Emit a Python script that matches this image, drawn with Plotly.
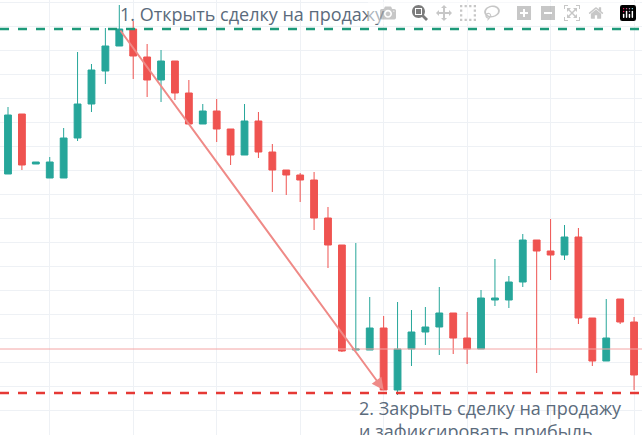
import plotly.graph_objects as go

# pixel-derived price values (value = 435 - pixel y)
opens_px  = [174,114,164,178,178,138,104,71,46,29,57,80,61,93,124,111,129,155,121,152,170,175,180,218,245,350,350,328,390,349,332,327,313,338,349,300,300,282,240,251,255,237,318,361,299,322]
closes_px = [115,165,162,162,138,104,70,46,29,56,80,61,93,124,111,129,155,121,152,170,175,180,218,245,351,349,328,390,349,332,327,313,338,349,298,298,282,240,251,255,237,318,361,338,322,375]
highs_px  = [107,114,162,157,128,52,64,28,5,21,44,50,61,80,104,99,129,104,112,144,170,173,172,207,245,243,297,316,302,310,307,287,313,312,290,259,276,234,240,219,225,228,318,299,299,317]
lows_px   = [174,170,164,178,178,141,112,84,46,79,97,102,100,124,124,142,165,155,158,192,195,202,230,268,352,350,350,390,395,366,345,355,354,364,349,306,308,287,373,280,260,324,366,361,324,390]

H = 435
opens = [H - v for v in opens_px]
closes = [H - v for v in closes_px]
highs = [H - v for v in highs_px]
lows = [H - v for v in lows_px]
idx = list(range(len(opens)))

open_level = H - 29
close_level = H - 393
mid_level = H - 349

fig = go.Figure(go.Candlestick(
    x=idx, open=opens, high=highs, low=lows, close=closes,
    increasing=dict(line=dict(color="#26a69a", width=1), fillcolor="#26a69a"),
    decreasing=dict(line=dict(color="#ef5350", width=1), fillcolor="#ef5350"),
    whiskerwidth=0, showlegend=False,
))

fig.add_hline(y=open_level, line=dict(color="#1e9a7a", width=2.5, dash="dash"))
fig.add_hline(y=close_level, line=dict(color="#e53935", width=2.5, dash="dash"))
fig.add_hline(y=mid_level, line=dict(color="#f4a4a4", width=1))

fig.add_annotation(x=27, y=close_level + 3, ax=8, ay=open_level, xref="x", yref="y",
                   axref="x", ayref="y", showarrow=True, arrowhead=2, arrowsize=1.2,
                   arrowwidth=2, arrowcolor="#ef8a87", text="")
txtfont = dict(family="Open Sans", size=18, color="#5b6b7c")
fig.add_annotation(x=7.9, y=open_level + 1, xref="x", yref="y", text="1. Открыть сделку на продажу",
                   showarrow=False, xanchor="left", yanchor="bottom", font=txtfont)
fig.add_annotation(x=25.1, y=close_level - 1, xref="x", yref="y",
                   text="2. Закрыть сделку на продажу<br>и зафиксировать прибыль",
                   showarrow=False, xanchor="left", yanchor="top", align="left", font=txtfont)

fig.update_layout(
    width=642, height=435, margin=dict(l=0, r=0, t=0, b=0),
    plot_bgcolor="white", paper_bgcolor="white",
    xaxis=dict(range=[-0.575, 45.57], showticklabels=False, rangeslider=dict(visible=False),
               showgrid=True, gridcolor="#eef1f5", dtick=6, tick0=3, zeroline=False),
    yaxis=dict(range=[0, 435], showticklabels=False, showgrid=True, gridcolor="#eef1f5",
               dtick=24, tick0=1, zeroline=False),
)
fig.write_html("out.html", post_script="document.body.style.margin='0';document.body.style.overflow='hidden';")
